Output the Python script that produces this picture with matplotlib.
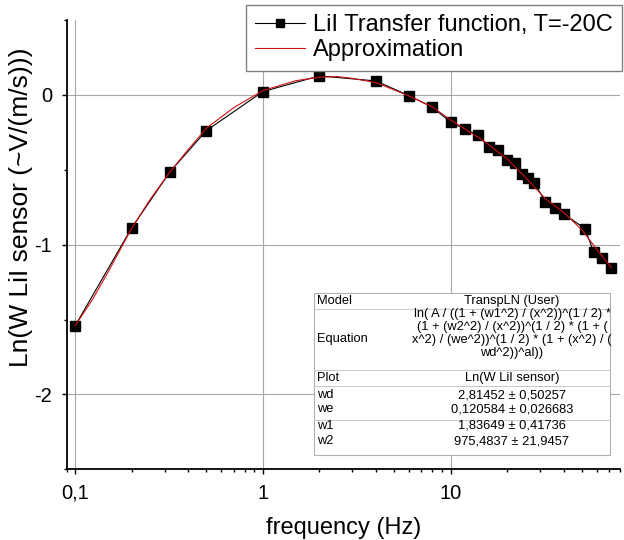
import matplotlib
matplotlib.use("Agg")
import matplotlib.pyplot as plt
from matplotlib.patches import Rectangle
from matplotlib.lines import Line2D
import numpy as np

plt.rcParams['font.family'] = ['Liberation Sans', 'DejaVu Sans']

# measured transfer function
freq = [0.1, 0.2, 0.32, 0.5, 1, 2, 4, 6, 8, 10, 12, 14, 16, 18, 20, 22, 24, 26, 28,
        32, 36, 40, 52, 58, 64, 72]
lnw = [-1.54, -0.887, -0.513, -0.238, 0.022, 0.127, 0.093, -0.005, -0.082, -0.182,
       -0.231, -0.269, -0.349, -0.369, -0.433, -0.456, -0.531, -0.558, -0.589,
       -0.713, -0.753, -0.793, -0.893, -1.051, -1.089, -1.158]

# approximation curve
fit_f = [0.1, 0.123, 0.15, 0.2, 0.25, 0.32, 0.4, 0.5, 0.7, 1, 1.5, 2, 2.5, 3, 4, 6, 8,
         10, 15, 20, 25, 32, 40, 50, 60, 72]
fit_v = [-1.54, -1.37, -1.18, -0.89, -0.70, -0.513, -0.365, -0.222, -0.085, 0.029,
         0.095, 0.118, 0.122, 0.11, 0.082, -0.007, -0.08, -0.167, -0.307, -0.427,
         -0.549, -0.693, -0.784, -0.9, -1.03, -1.153]

xticks = [0.1, 1, 10]
xticklabels = ['0,1', '1', '10']
yticks = [0, -1, -2]
yticklabels = ['0', '-1', '-2']

table_rows = [('wd', '2,81452 ± 0,50257'),
              ('we', '0,120584 ± 0,026683'),
              ('w1', '1,83649 ± 0,41736'),
              ('w2', '975,4837 ± 21,9457')]
equation = ['ln( A / ((1 + (w1^2) / (x^2))^(1 / 2) *',
            '(1 + (w2^2) / (x^2))^(1 / 2) * (1 + (',
            'x^2) / (we^2))^(1 / 2) * (1 + (x^2) / (',
            'wd^2))^al))']

W, H = 624, 540
fig = plt.figure(figsize=(W / 100, H / 100), dpi=100)
ax = fig.add_axes([66.7 / W, 1 - 469.3 / H, (620 - 66.7) / W, (469.3 - 20) / H])

ax.plot(freq, lnw, color='black', lw=0.8, marker='s', ms=7, mec='black', mfc='black',
        zorder=3)
ax.plot(fit_f, fit_v, color='#d01010', lw=0.8, zorder=4)

ax.set_xscale('log')
ax.set_xlim(0.09, 80)
ax.set_ylim(-2.5, 0.5)
ax.set_xticks(xticks)
ax.set_xticklabels(xticklabels)
ax.set_yticks(yticks)
ax.set_yticklabels(yticklabels)
ax.set_yticks([0.5, -0.5, -1.5, -2.5], minor=True)
ax.tick_params(which='major', direction='out', length=3.5, width=1, labelsize=14.5, pad=7)
ax.tick_params(which='minor', direction='out', length=2.5, width=1)
ax.tick_params(axis='x', which='minor', labelbottom=False)
ax.grid(True, which='major', color='#a8a8a8', lw=0.8)
ax.set_axisbelow(True)
for s in ['top', 'right']:
    ax.spines[s].set_visible(False)
for s in ['left', 'bottom']:
    ax.spines[s].set_linewidth(1.3)

ax.set_xlabel('frequency (Hz)', fontsize=17, labelpad=10)
ax.set_ylabel('Ln(W LiI sensor (~V/(m/s)))', fontsize=19, va='center')
ax.yaxis.set_label_coords((21 - 66.7) / (620 - 66.7), (469.3 - 207) / (469.3 - 20))

handles = [Line2D([], [], color='black', lw=0.8, marker='s', ms=6),
           Line2D([], [], color='#d01010', lw=0.8)]
leg = ax.legend(handles, ['LiI Transfer function, T=-20C', 'Approximation'],
                loc='upper right', bbox_to_anchor=(622 / W, 1 - 5 / H),
                bbox_transform=fig.transFigure, fontsize=17, frameon=True,
                fancybox=False, edgecolor='#808080', framealpha=1, borderpad=0.4,
                labelspacing=0.12, handlelength=2.1, handletextpad=0.35,
                borderaxespad=0, numpoints=1)
leg.get_frame().set_linewidth(1.0)
leg.set_zorder(10)

# fit results table
tx0, tx1, ty0, ty1 = 314, 610, 293, 455
fig.patches.append(Rectangle((tx0 / W, 1 - ty1 / H), (tx1 - tx0) / W, (ty1 - ty0) / H,
                             transform=fig.transFigure, facecolor='white',
                             edgecolor='#b0b0b0', lw=0.8, zorder=5))
for yl in [309, 370, 386, 420]:
    fig.add_artist(Line2D([tx0 / W, tx1 / W], [1 - yl / H, 1 - yl / H],
                          transform=fig.transFigure, color='#c8c8c8', lw=0.7, zorder=6))
fs = 9.3
cx = 512
fig.text(317 / W, 1 - 301 / H, 'Model', fontsize=fs, va='center', zorder=7)
fig.text(cx / W, 1 - 301 / H, 'TranspLN (User)', fontsize=fs, va='center', ha='center',
         zorder=7)
fig.text(317 / W, 1 - 339 / H, 'Equation', fontsize=fs, va='center', zorder=7)
for i, line in enumerate(equation):
    fig.text(cx / W, 1 - (314 + 13 * i) / H, line, fontsize=fs, va='center', ha='center',
             zorder=7)
fig.text(317 / W, 1 - 378 / H, 'Plot', fontsize=fs, va='center', zorder=7)
fig.text(cx / W, 1 - 378 / H, 'Ln(W LiI sensor)', fontsize=fs, va='center', ha='center',
         zorder=7)
for (name, val), yy in zip(table_rows, [395, 409, 426, 441]):
    fig.text(317 / W, 1 - yy / H, name, fontsize=fs, va='center', zorder=7)
    fig.text(cx / W, 1 - yy / H, val, fontsize=fs, va='center', ha='center', zorder=7)

fig.savefig('out.png', dpi=100)
